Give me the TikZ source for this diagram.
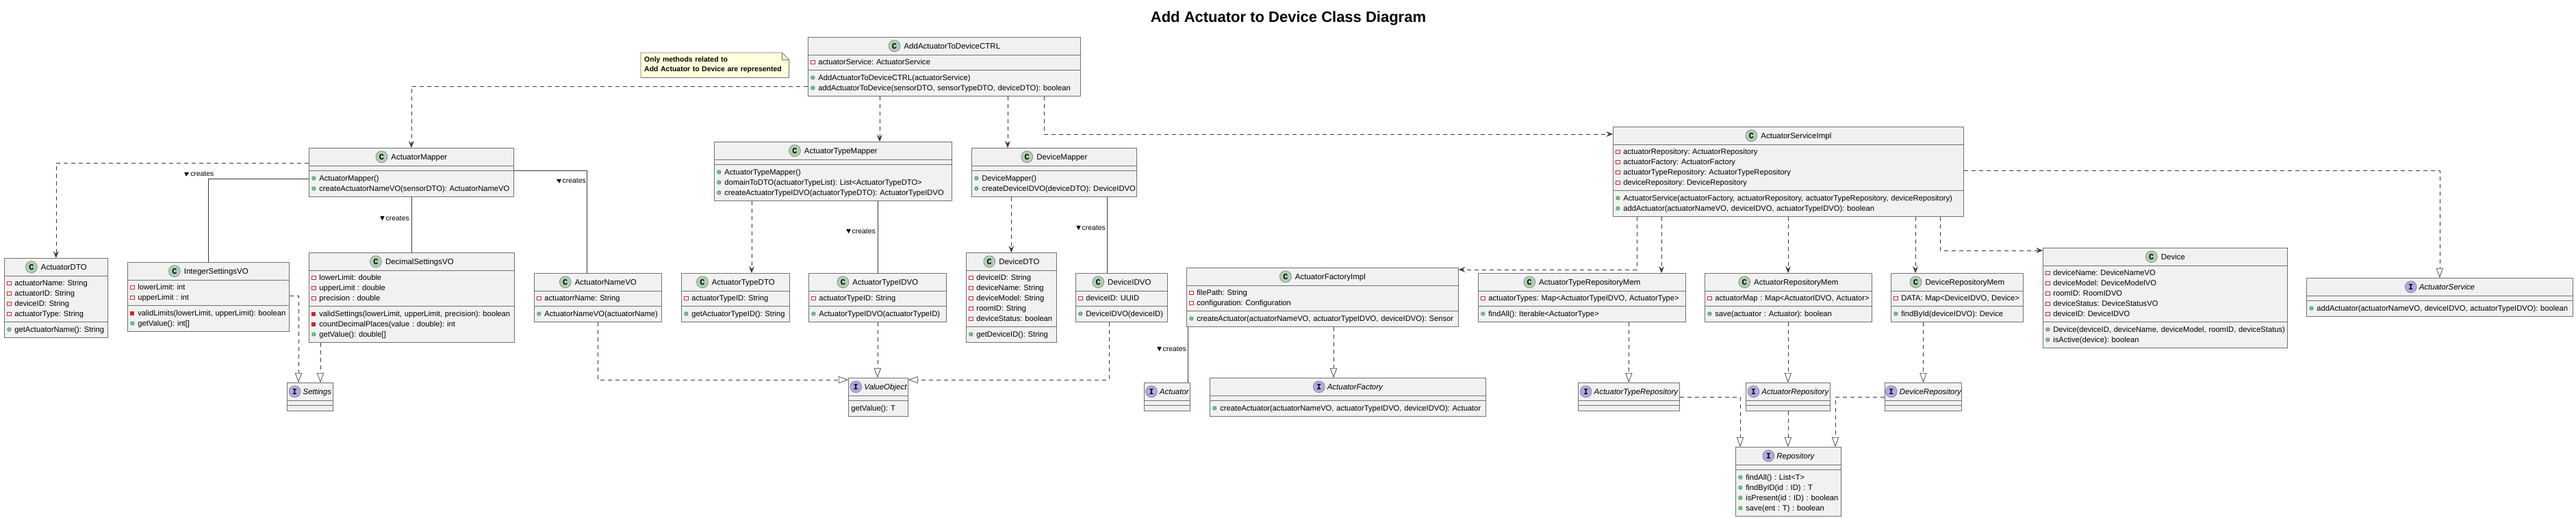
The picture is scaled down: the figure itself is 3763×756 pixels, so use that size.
\documentclass[tikz,border=0pt]{standalone}
\usepackage{fontspec}
\setmainfont{Liberation Sans}
\setmonofont{Liberation Mono}
\usetikzlibrary{shapes.multipart, arrows.meta, backgrounds}
\frenchspacing

\definecolor{boxfill}{HTML}{F1F1F1}
\definecolor{boxline}{HTML}{707070}
\definecolor{cicol}{HTML}{ADD1B2}
\definecolor{iicol}{HTML}{B4A7E5}
\definecolor{privred}{HTML}{C82930}
\definecolor{pubfill}{HTML}{84BE84}
\definecolor{publine}{HTML}{038048}
\definecolor{notefill}{HTML}{FEFFDD}
\definecolor{edgecol}{HTML}{383838}

\newcommand{\rs}{\rule[-4.5pt]{0pt}{15pt}}
\newcommand{\fpriv}{\tikz[x=1pt,y=1pt,baseline=0pt]\draw[privred,line width=0.6pt,fill=white] (0.5,0.8) rectangle (6,6.3);}
\newcommand{\mpriv}{\tikz[x=1pt,y=1pt,baseline=0pt]\fill[privred] (0.3,0.6) rectangle (6.2,6.5);}
\newcommand{\mpub}{\tikz[x=1pt,y=1pt,baseline=0pt]\filldraw[fill=pubfill,draw=publine,line width=0.4pt] (3.2,3.6) circle[radius=2.8];}
\newcommand{\fld}[1]{\rs\mbox{\makebox[11pt][l]{\fpriv}#1}}
\newcommand{\mthp}[1]{\rs\mbox{\makebox[11pt][l]{\mpriv}#1}}
\newcommand{\mth}[1]{\rs\mbox{\makebox[11pt][l]{\mpub}#1}}
\newcommand{\uicon}[2]{\makebox[18pt]{\tikz[x=1pt,y=1pt,baseline=-4pt]\filldraw[fill=#1,draw=boxline,line width=0.5pt] (0,0) circle[radius=8.5];}\hspace{-18pt}\makebox[18pt]{\fontsize{12}{12}\selectfont\ttfamily\bfseries #2}}
\newcommand{\chd}[1]{\rule[-5pt]{0pt}{18pt}\makebox[\linewidth][c]{\uicon{cicol}{C}\hspace{5pt}\fontsize{11.5}{15}\selectfont #1}}
\newcommand{\ihd}[1]{\rule[-5pt]{0pt}{18pt}\makebox[\linewidth][c]{\uicon{iicol}{I}\hspace{3pt}\fontsize{11.5}{15}\selectfont\itshape #1}}
\newcommand{\tri}[1]{\tikz[x=1pt,y=1pt,baseline=0pt]\fill[shift={(0,3.6)},rotate=#1] (3.5,0) -- (-2.8,3.2) -- (-2.8,-3.2) -- cycle;}

\begin{document}
\begin{tikzpicture}[x=1pt, y=-1pt,
	cls/.style={rectangle split, rectangle split parts=3, rectangle split ignore empty parts=false,
		rectangle split empty part height=0pt, draw=boxline, fill=boxfill, line width=0.7pt,
		inner xsep=4pt, inner ysep=3.5pt, anchor=north west, align=left,
		font=\fontsize{11.2}{15}\selectfont, text width=#1},
	notetxt/.style={anchor=north west, minimum width=216pt, minimum height=36pt, text width=206pt,
		inner xsep=5pt, align=left, font=\bfseries\fontsize{10.5}{14}\selectfont},
	dep/.style={edgecol, line width=0.7pt, dash pattern=on 6pt off 5pt, -{Stealth[length=10pt,width=8pt,inset=4pt]}},
	real/.style={edgecol, line width=0.7pt, dash pattern=on 6pt off 5pt, -{Triangle[length=14pt,width=10pt,fill=white]}},
	assoc/.style={edgecol, line width=0.7pt},
	lbl/.style={font=\fontsize{10.4}{12}\selectfont, inner sep=0pt}]

			\useasboundingbox (0,0) rectangle (3763,756);
			\node[font=\bfseries\fontsize{22}{26}\selectfont] (title) at (1882,27) {Add Actuator to Device Class Diagram};

			\node[notetxt] (note) at (936,77) {Only methods related to\\Add Actuator to Device are represented};
			\begin{scope}[on background layer]
				\filldraw[fill=notefill, draw=boxline, line width=0.7pt] (note.north west) -- ([xshift=-10pt]note.north east) -- ([yshift=-10pt]note.north east) -- (note.south east) -- (note.south west) -- cycle;
				\draw[boxline, line width=0.7pt] ([xshift=-10pt]note.north east) |- ([yshift=-10pt]note.north east);
			\end{scope}

			\node[cls=390pt] (ctrl) at (1180,54) {\chd{AddActuatorToDeviceCTRL}
				\nodepart{two}\fld{actuatorService: ActuatorService}
				\nodepart{three}\mth{AddActuatorToDeviceCTRL(actuatorService)}\\\mth{addActuatorToDevice(sensorDTO, sensorTypeDTO, deviceDTO): boolean}};

			\node[cls=291pt] (am) at (451,216) {\chd{ActuatorMapper}
				\nodepart{two}
				\nodepart{three}\mth{ActuatorMapper()}\\\mth{createActuatorNameVO(sensorDTO): ActuatorNameVO}};
			\node[cls=339pt] (atm) at (1043,207) {\chd{ActuatorTypeMapper}
				\nodepart{two}
				\nodepart{three}\mth{ActuatorTypeMapper()}\\\mth{domainToDTO(actuatorTypeList): List<ActuatorTypeDTO>}\\\mth{createActuatorTypeIDVO(actuatorTypeDTO): ActuatorTypeIDVO}};
			\node[cls=233pt] (dm) at (1419,216) {\chd{DeviceMapper}
				\nodepart{two}
				\nodepart{three}\mth{DeviceMapper()}\\\mth{createDeviceIDVO(deviceDTO): DeviceIDVO}};
			\node[cls=504pt] (asi) at (2356,185) {\chd{ActuatorServiceImpl}
				\nodepart{two}\fld{actuatorRepository: ActuatorRepository}\\\fld{actuatorFactory: ActuatorFactory}\\\fld{actuatorTypeRepository: ActuatorTypeRepository}\\\fld{deviceRepository: DeviceRepository}
				\nodepart{three}\mth{ActuatorService(actuatorFactory, actuatorRepository, actuatorTypeRepository, deviceRepository)}\\\mth{addActuator(actuatorNameVO, deviceIDVO, actuatorTypeIDVO): boolean}};

			\node[cls=143pt] (adto) at (6,377) {\chd{ActuatorDTO}
				\nodepart{two}\fld{actuatorName: String}\\\fld{actuatorID: String}\\\fld{deviceID: String}\\\fld{actuatorType: String}
				\nodepart{three}\mth{getActuatorName(): String}};
			\node[cls=228pt] (isvo) at (186,383) {\chd{IntegerSettingsVO}
				\nodepart{two}\fld{lowerLimit: int}\\\fld{upperLimit : int}
				\nodepart{three}\mthp{validLimits(lowerLimit, upperLimit): boolean}\\\mth{getValue(): int[]}};
			\node[cls=292pt] (dsvo) at (451,369) {\chd{DecimalSettingsVO}
				\nodepart{two}\fld{lowerLimit: double}\\\fld{upperLimit : double}\\\fld{precision : double}
				\nodepart{three}\mthp{validSettings(lowerLimit, upperLimit, precision): boolean}\\\mthp{countDecimalPlaces(value : double): int}\\\mth{getValue(): double[]}};
			\node[cls=178pt] (anvo) at (780,399) {\chd{ActuatorNameVO}
				\nodepart{two}\fld{actuatorrName: String}
				\nodepart{three}\mth{ActuatorNameVO(actuatorName)}};
			\node[cls=150pt] (atdto) at (995,399) {\chd{ActuatorTypeDTO}
				\nodepart{two}\fld{actuatorTypeID: String}
				\nodepart{three}\mth{getActuatorTypeID(): String}};
			\node[cls=193pt] (atidvo) at (1181,399) {\chd{ActuatorTypeIDVO}
				\nodepart{two}\fld{actuatorTypeID: String}
				\nodepart{three}\mth{ActuatorTypeIDVO(actuatorTypeID)}};
			\node[cls=124pt] (ddto) at (1411,369) {\chd{DeviceDTO}
				\nodepart{two}\fld{deviceID: String}\\\fld{deviceName: String}\\\fld{deviceModel: String}\\\fld{roomID: String}\\\fld{deviceStatus: boolean}
				\nodepart{three}\mth{getDeviceID(): String}};
			\node[cls=126pt] (divo) at (1571,399) {\chd{DeviceIDVO}
				\nodepart{two}\fld{deviceID: UUID}
				\nodepart{three}\mth{DeviceIDVO(deviceID)}};
			\node[cls=389pt] (afi) at (1733,391) {\chd{ActuatorFactoryImpl}
				\nodepart{two}\fld{filePath: String}\\\fld{configuration: Configuration}
				\nodepart{three}\mth{createActuator(actuatorNameVO, actuatorTypeIDVO, deviceIDVO): Sensor}};
			\node[cls=295pt] (atrm) at (2159,399) {\chd{ActuatorTypeRepositoryMem}
				\nodepart{two}\fld{actuatorTypes: Map<ActuatorTypeIDVO, ActuatorType>}
				\nodepart{three}\mth{findAll(): Iterable<ActuatorType>}};
			\node[cls=236pt] (arm) at (2490,399) {\chd{ActuatorRepositoryMem}
				\nodepart{two}\fld{actuatorMap : Map<ActuatorIDVO, Actuator>}
				\nodepart{three}\mth{save(actuator : Actuator): boolean}};
			\node[cls=185pt] (drm) at (2762,399) {\chd{DeviceRepositoryMem}
				\nodepart{two}\fld{DATA: Map<DeviceIDVO, Device>}
				\nodepart{three}\mth{findById(deviceIDVO): Device}};
			\node[cls=349pt] (dev) at (2984,362) {\chd{Device}
				\nodepart{two}\fld{deviceName: DeviceNameVO}\\\fld{deviceModel: DeviceModelVO}\\\fld{roomID: RoomIDVO}\\\fld{deviceStatus: DeviceStatusVO}\\\fld{deviceID: DeviceIDVO}
				\nodepart{three}\mth{Device(deviceID, deviceName, deviceModel, roomID, deviceStatus)}\\\mth{isActive(device): boolean}};
			\node[cls=381pt] (as) at (3369,406) {\ihd{ActuatorService}
				\nodepart{two}
				\nodepart{three}\mth{addActuator(actuatorNameVO, deviceIDVO, actuatorTypeIDVO): boolean}};

			\node[cls=59pt] (set) at (419,559) {\ihd{Settings}\nodepart{two}\nodepart{three}};
			\node[cls=79pt] (vo) at (1239,552) {\ihd{ValueObject}
				\nodepart{two}
				\nodepart{three}\rs getValue(): T};
			\node[cls=59pt] (act) at (1671,559) {\ihd{Actuator}\nodepart{two}\nodepart{three}};
			\node[cls=395pt] (af) at (1767,552) {\ihd{ActuatorFactory}
				\nodepart{two}
				\nodepart{three}\mth{createActuator(actuatorNameVO, actuatorTypeIDVO, deviceIDVO): Actuator}};
			\node[cls=140pt] (atr) at (2305,559) {\ihd{ActuatorTypeRepository}\nodepart{two}\nodepart{three}};
			\node[cls=115pt] (ar) at (2550,559) {\ihd{ActuatorRepository}\nodepart{two}\nodepart{three}};
			\node[cls=104pt] (dr) at (2753,559) {\ihd{DeviceRepository}\nodepart{two}\nodepart{three}};
			\node[cls=146pt] (repo) at (2535,653) {\ihd{Repository}
				\nodepart{two}
				\nodepart{three}\mth{findAll() : List<T>}\\\mth{findByID(id : ID) : T}\\\mth{isPresent(id : ID) : boolean}\\\mth{save(ent : T) : boolean}};

			\draw[dep] (ctrl.west |- 0,126) -| (am.north);
			\draw[dep] (ctrl.south -| 1285,0) -- (atm.north -| 1285,0);
			\draw[dep] (ctrl.south -| 1472,0) -- (dm.north -| 1472,0);
			\draw[dep] (ctrl.south -| 1525,0) |- (asi.west |- 0,196);

			\draw[dep] (am.west |- 0,238) -| (adto.north);
			\draw[assoc] (am.west |- 0,261) -| (isvo.north);
			\draw[assoc] (am.south) -- (am.south |- dsvo.north);
			\draw[assoc] (am.east |- 0,249) -| (anvo.north -| 857,0);
			\draw[real] (isvo.east |- 0,432) -| (set.north -| 436,0);
			\draw[real] (dsvo.south -| 468,0) -- (set.north -| 468,0);
			\draw[real] (anvo.south) |- (vo.west |- 0,555);

			\draw[dep] (atm.south -| 1098,0) -- (atdto.north -| 1098,0);
			\draw[assoc] (atm.south -| atidvo.north) -- (atidvo.north);
			\draw[real] (atidvo.south) -- (atidvo.south |- vo.north);
			\draw[dep] (dm.south -| ddto.north) -- (ddto.north);
			\draw[assoc] (dm.south -| 1617,0) -- (divo.north -| 1617,0);
			\draw[real] (divo.south -| 1620,0) |- (vo.east |- 0,555);

			\draw[assoc] (afi.south -| 1735,0) -- (act.north -| 1735,0);
			\draw[real] (afi.south -| 1948,0) -- (af.north -| 1948,0);
			\draw[dep] (asi.south -| 2391,0) |- (afi.east |- 0,394);
			\draw[dep] (asi.south -| 2427,0) -- (atrm.north -| 2427,0);
			\draw[dep] (asi.south -| 2612,0) -- (arm.north -| 2612,0);
			\draw[dep] (asi.south -| 2798,0) -- (drm.north -| 2798,0);
			\draw[dep] (asi.south -| 2834,0) |- (dev.west |- 0,366);
			\draw[real] (asi.east |- 0,249) -| (as.north);

			\draw[real] (atrm.south -| atr.north) -- (atr.north);
			\draw[real] (arm.south -| ar.north) -- (ar.north);
			\draw[real] (drm.south -| dr.north) -- (dr.north);
			\draw[real] (atr.east) -| (repo.north -| 2542,0);
			\draw[real] (ar.south) -- (ar.south |- repo.north);
			\draw[real] (dr.west) -| (repo.north -| 2681,0);

			\node[lbl, anchor=west] (lbisvo) at (269,254) {\tri{25}\hspace{2pt}creates};
			\node[lbl, anchor=east] (lbdsvo) at (598,319) {\tri{-90}\hspace{2pt}creates};
			\node[lbl, anchor=east] (lbanvo) at (856,264) {\tri{160}\hspace{2pt}creates};
			\node[lbl, anchor=east] (lbatid) at (1279,338) {\tri{-90}\hspace{2pt}creates};
			\node[lbl, anchor=east] (lbdivo) at (1615,333) {\tri{-90}\hspace{2pt}creates};
			\node[lbl, anchor=east] (lbact) at (1733,510) {\tri{-90}\hspace{2pt}creates};

		\end{tikzpicture}
\end{document}
